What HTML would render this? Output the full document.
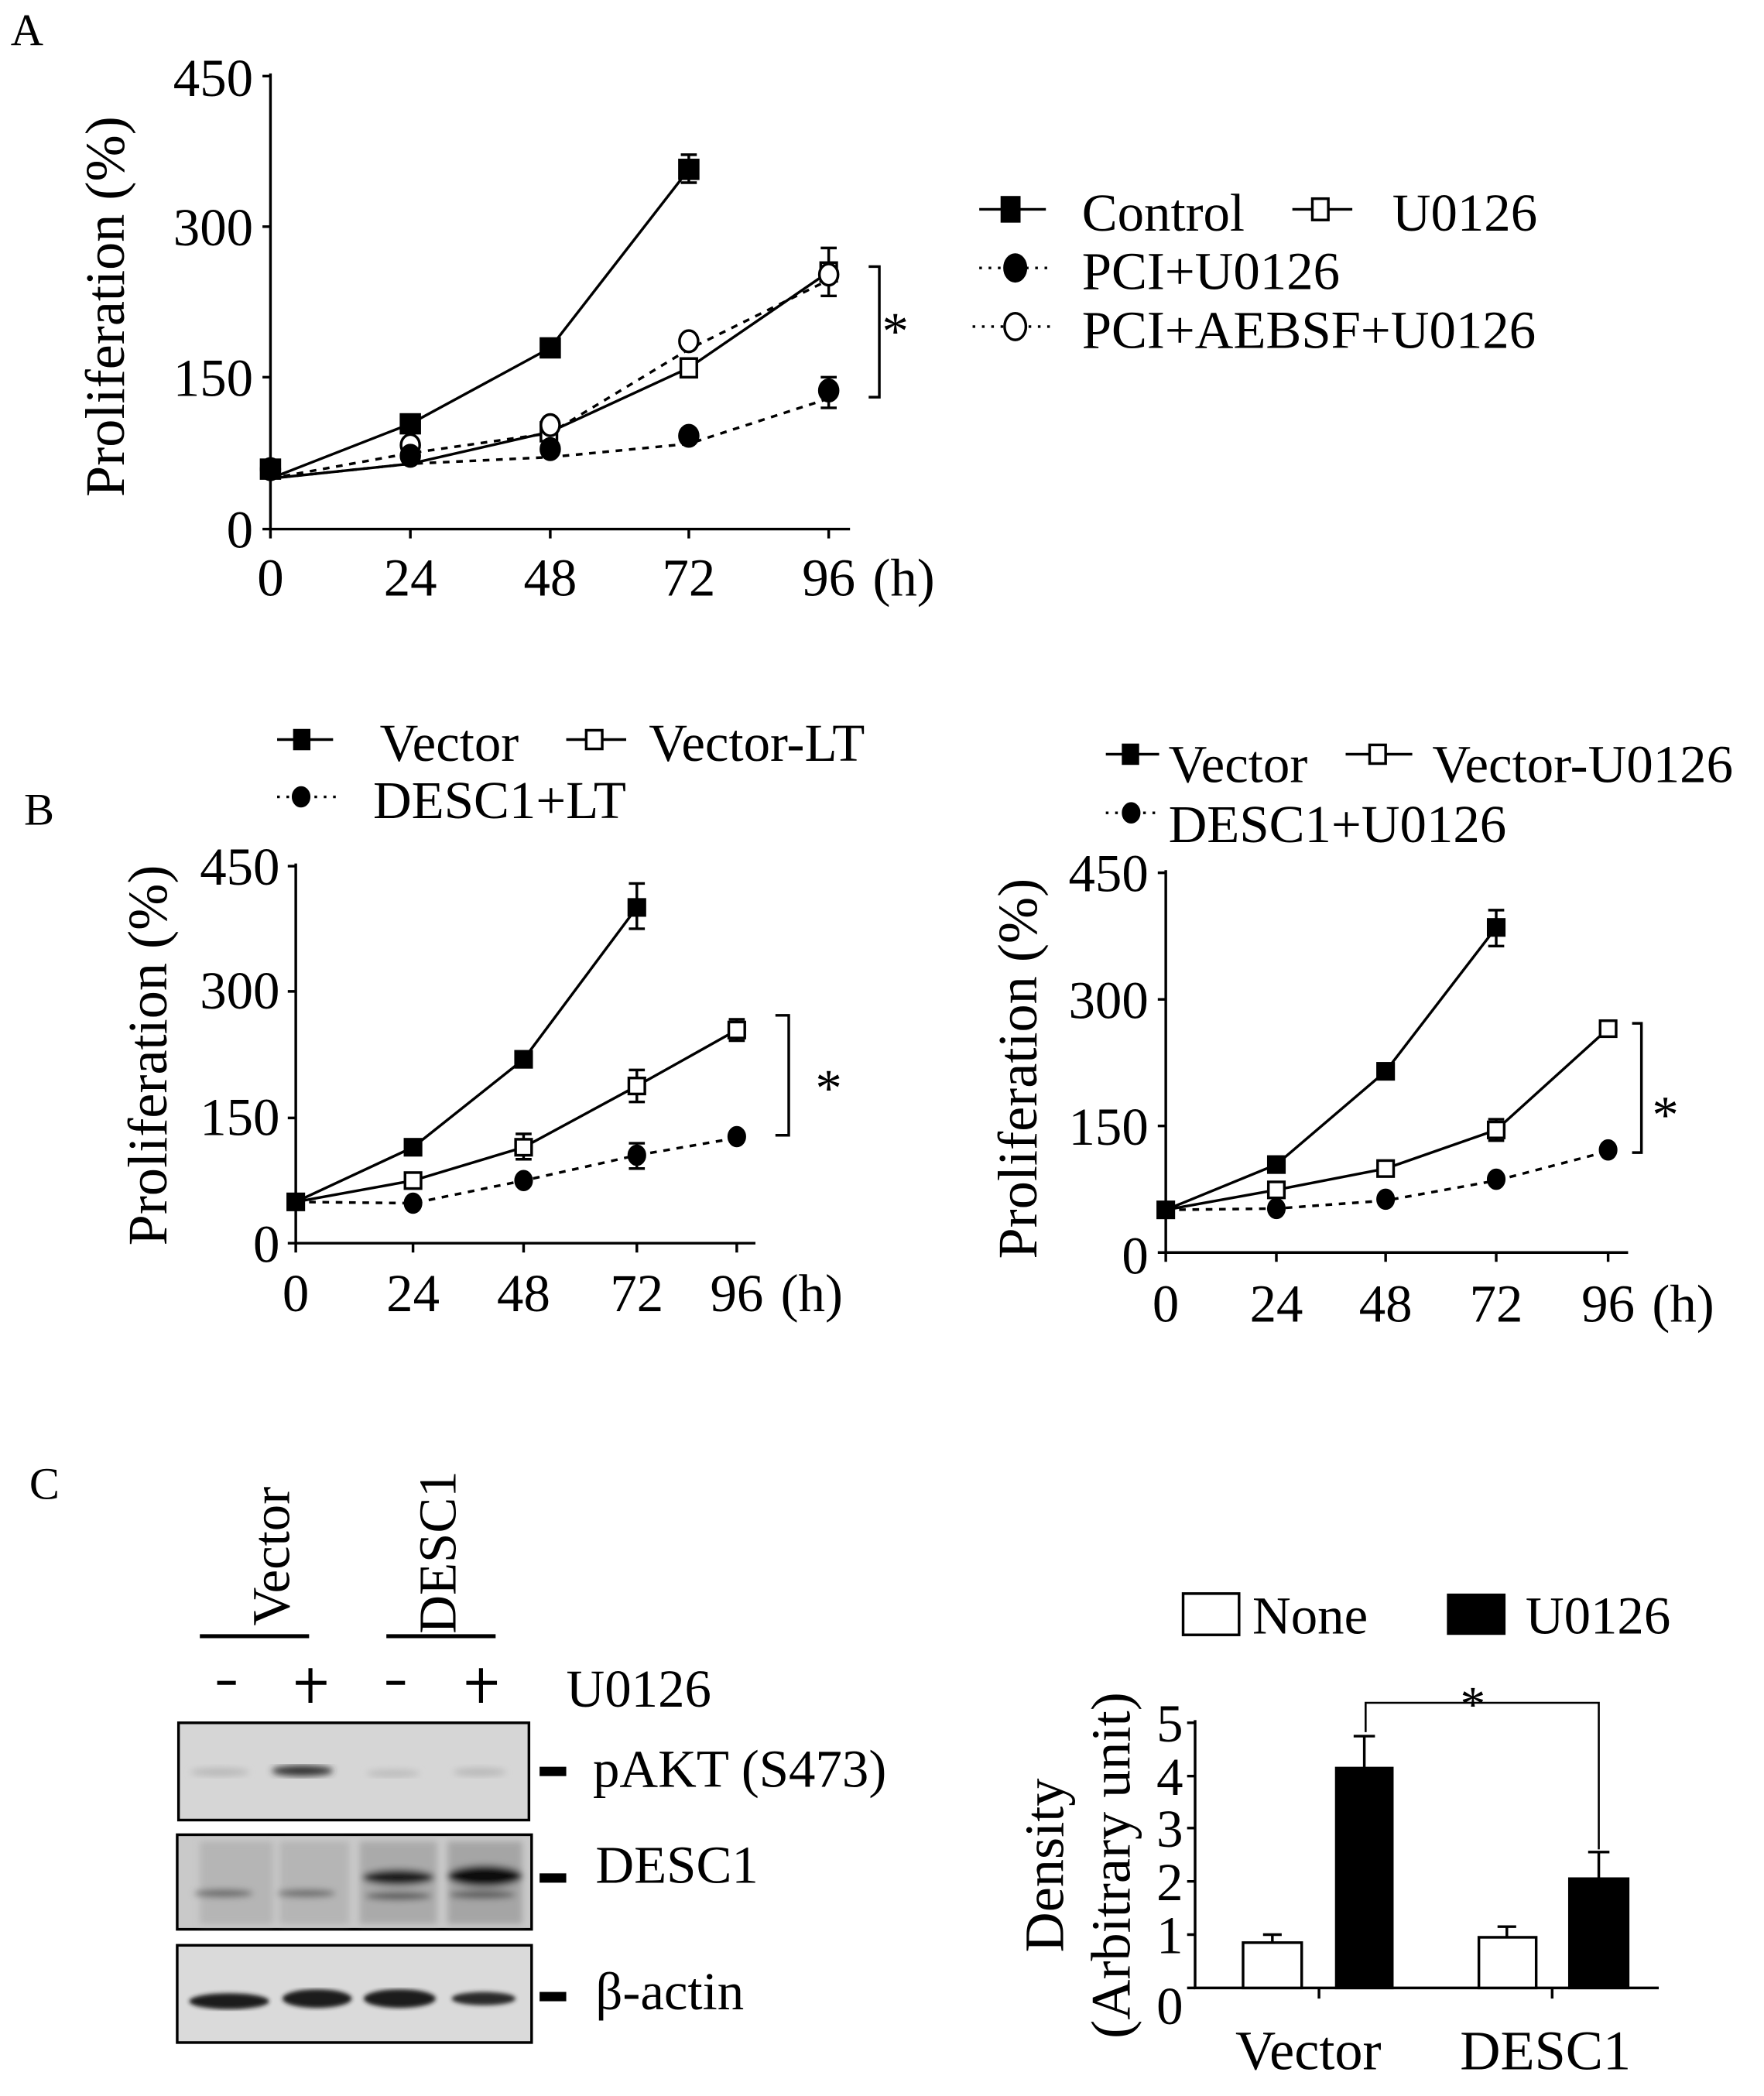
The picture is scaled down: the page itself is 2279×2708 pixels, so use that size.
<!DOCTYPE html>
<html><head><meta charset="utf-8"><style>
html,body{margin:0;padding:0;background:#fff}
svg{display:block}
text{font-family:"Liberation Serif",serif;fill:#000}
</style></head><body>
<svg width="2279" height="2708" viewBox="0 0 1324 1573" xmlns="http://www.w3.org/2000/svg">
<defs>
<filter id="blur2"><feGaussianBlur stdDeviation="2.5"/></filter>
<filter id="blur1"><feGaussianBlur stdDeviation="1.5"/></filter>
</defs>
<g font-size="40">
<!-- Panel A -->
<text x="8" y="34" font-size="34">A</text>
<g stroke="#000" stroke-width="2" fill="none">
<path d="M203 55 V397 H638"/>
<path d="M197 57 H203 M197 170 H203 M197 283 H203 M197 397 H203"/>
<path d="M203 397 V404 M308 397 V404 M413 397 V404 M517 397 V404 M622 397 V404"/>
</g>
<g text-anchor="end"><text x="190" y="72">450</text><text x="190" y="184">300</text><text x="190" y="297">150</text><text x="190" y="411">0</text></g>
<g text-anchor="middle"><text x="203" y="447">0</text><text x="308" y="447">24</text><text x="413" y="447">48</text><text x="517" y="447">72</text><text x="622" y="447">96</text></g>
<text x="655" y="447">(h)</text>
<text transform="translate(93,230) rotate(-90)" text-anchor="middle" font-size="42">Proliferation (%)</text>
<!-- A series -->
<g stroke="#000" stroke-width="2" fill="none">
<polyline points="203,359 308,318 413,261 517,127"/>
<polyline points="203,359 308,348 413,324 517,276 622,204"/>
<polyline points="203,359 308,348 413,343 517,333 622,299" stroke-dasharray="5,5"/>
<polyline points="203,359 308,340 413,325 517,262 622,210" stroke-dasharray="5,5"/>
<path d="M517 116 V137 M511 116 H523 M511 137 H523"/>
<path d="M622 186 V222 M616 186 H628 M616 222 H628"/>
<path d="M622 283 V306 M616 283 H628 M616 306 H628"/>
<path d="M652 200 H660 V298 H652"/>
</g>
<text x="662" y="262" font-size="40">*</text>
<g stroke="#000" stroke-width="2">
<ellipse cx="203" cy="352" rx="7" ry="8" fill="#000"/>
<rect x="196" y="345" width="14" height="14" fill="#000"/>
<rect x="301" y="311" width="14" height="14" fill="#000"/>
<rect x="406" y="254" width="14" height="14" fill="#000"/>
<rect x="510" y="120" width="14" height="14" fill="#000"/>
<rect x="406" y="317" width="12" height="14" fill="#fff"/>
<rect x="511" y="269" width="12" height="14" fill="#fff"/>
<rect x="616" y="197" width="12" height="14" fill="#fff"/>
<ellipse cx="308" cy="334" rx="7" ry="8" fill="#fff"/>
<ellipse cx="413" cy="319" rx="7" ry="8" fill="#fff"/>
<ellipse cx="517" cy="256" rx="7" ry="8" fill="#fff"/>
<ellipse cx="622" cy="206" rx="7" ry="8" fill="#fff"/>
<ellipse cx="308" cy="342" rx="7" ry="8" fill="#000"/>
<ellipse cx="413" cy="337" rx="7" ry="8" fill="#000"/>
<ellipse cx="517" cy="327" rx="7" ry="8" fill="#000"/>
<ellipse cx="622" cy="293" rx="7" ry="8" fill="#000"/>
</g>
<!-- A legend -->
<g stroke="#000" stroke-width="2">
<path d="M735 157 H785"/><rect x="752" y="148" width="13" height="18" fill="#000"/>
<path d="M970 157 H1015"/><rect x="985" y="149" width="12" height="16" fill="#fff"/>
<path d="M735 201 H790" stroke-dasharray="2,5"/><ellipse cx="762" cy="201" rx="8" ry="10" fill="#000"/>
<path d="M730 245 H790" stroke-dasharray="2,5"/><ellipse cx="762" cy="245" rx="8" ry="10" fill="#fff"/>
</g>
<text x="812" y="173">Control</text><text x="1045" y="173">U0126</text>
<text x="812" y="217">PCI+U0126</text>
<text x="812" y="261">PCI+AEBSF+U0126</text>

<!-- Panel B left -->
<text x="18" y="619" font-size="34">B</text>
<g stroke="#000" stroke-width="2">
<path d="M208 555 H250"/><rect x="221" y="548" width="11" height="14" fill="#000"/>
<path d="M425 555 H470"/><rect x="440" y="548" width="12" height="14" fill="#fff"/>
<path d="M208 598 H255" stroke-dasharray="2,5"/><ellipse cx="226" cy="598" rx="6" ry="7" fill="#000"/>
</g>
<text x="285" y="571">Vector</text><text x="487" y="571">Vector-LT</text>
<text x="280" y="614">DESC1+LT</text>
<g stroke="#000" stroke-width="2" fill="none">
<path d="M222 648 V933 H567"/>
<path d="M216 650 H222 M216 744 H222 M216 839 H222 M216 933 H222"/>
<path d="M222 933 V940 M310 933 V940 M393 933 V940 M478 933 V940 M553 933 V940"/>
</g>
<g text-anchor="end"><text x="210" y="664">450</text><text x="210" y="757">300</text><text x="210" y="852">150</text><text x="210" y="947">0</text></g>
<g text-anchor="middle"><text x="222" y="984">0</text><text x="310" y="984">24</text><text x="393" y="984">48</text><text x="478" y="984">72</text><text x="553" y="984">96</text></g>
<text x="586" y="984">(h)</text>
<text transform="translate(125,792) rotate(-90)" text-anchor="middle" font-size="42">Proliferation (%)</text>
<g stroke="#000" stroke-width="2" fill="none">
<polyline points="222,902 310,861 393,795 478,681"/>
<polyline points="222,902 310,886 393,861 478,815 553,773"/>
<polyline points="222,902 310,903 393,886 478,867 553,854" stroke-dasharray="5,5"/>
<path d="M478 663 V697 M472 663 H484 M472 697 H484"/>
<path d="M478 803 V827 M472 803 H484 M472 827 H484"/>
<path d="M393 851 V870 M387 851 H399 M387 870 H399"/>
<path d="M553 765 V781 M547 765 H559 M547 781 H559"/>
<path d="M478 858 V877 M472 858 H484 M472 877 H484"/>
<path d="M582 762 H592 V852 H582"/>
</g>
<text x="612" y="830" font-size="40">*</text>
<g stroke="#000" stroke-width="2">
<rect x="216" y="896" width="12" height="12" fill="#000"/>
<rect x="304" y="855" width="12" height="12" fill="#000"/>
<rect x="387" y="789" width="12" height="12" fill="#000"/>
<rect x="472" y="675" width="12" height="12" fill="#000"/>
<rect x="304" y="880" width="12" height="12" fill="#fff"/>
<rect x="387" y="855" width="12" height="12" fill="#fff"/>
<rect x="472" y="809" width="12" height="12" fill="#fff"/>
<rect x="547" y="767" width="12" height="12" fill="#fff"/>
<ellipse cx="310" cy="903" rx="6" ry="7" fill="#000"/>
<ellipse cx="393" cy="886" rx="6" ry="7" fill="#000"/>
<ellipse cx="478" cy="867" rx="6" ry="7" fill="#000"/>
<ellipse cx="553" cy="853" rx="6" ry="7" fill="#000"/>
</g>

<!-- Panel B right -->
<g stroke="#000" stroke-width="2">
<path d="M830 566 H870"/><rect x="843" y="559" width="11" height="14" fill="#000"/>
<path d="M1010 566 H1060"/><rect x="1028" y="559" width="12" height="14" fill="#fff"/>
<path d="M830 610 H870" stroke-dasharray="2,5"/><ellipse cx="849" cy="610" rx="6" ry="7" fill="#000"/>
</g>
<text x="877" y="587">Vector</text><text x="1075" y="587">Vector-U0126</text>
<text x="877" y="632">DESC1+U0126</text>
<g stroke="#000" stroke-width="2" fill="none">
<path d="M875 653 V940 H1222"/>
<path d="M869 655 H875 M869 750 H875 M869 845 H875 M869 940 H875"/>
<path d="M875 940 V947 M958 940 V947 M1040 940 V947 M1123 940 V947 M1207 940 V947"/>
</g>
<g text-anchor="end"><text x="862" y="669">450</text><text x="862" y="764">300</text><text x="862" y="859">150</text><text x="862" y="956">0</text></g>
<g text-anchor="middle"><text x="875" y="992">0</text><text x="958" y="992">24</text><text x="1040" y="992">48</text><text x="1123" y="992">72</text><text x="1207" y="992">96</text></g>
<text x="1240" y="992">(h)</text>
<text transform="translate(778,802) rotate(-90)" text-anchor="middle" font-size="42">Proliferation (%)</text>
<g stroke="#000" stroke-width="2" fill="none">
<polyline points="875,908 958,874 1040,804 1123,696"/>
<polyline points="875,908 958,893 1040,877 1123,848 1207,772"/>
<polyline points="875,908 958,907 1040,901 1123,886 1207,864" stroke-dasharray="5,5"/>
<path d="M1123 683 V710 M1117 683 H1129 M1117 710 H1129"/>
<path d="M1123 840 V856 M1117 840 H1129 M1117 856 H1129"/>
<path d="M1225 768 H1232 V865 H1225"/>
</g>
<text x="1240" y="850" font-size="40">*</text>
<g stroke="#000" stroke-width="2">
<rect x="869" y="902" width="12" height="12" fill="#000"/>
<rect x="952" y="868" width="12" height="12" fill="#000"/>
<rect x="1034" y="798" width="12" height="12" fill="#000"/>
<rect x="1117" y="690" width="12" height="12" fill="#000"/>
<rect x="952" y="887" width="12" height="12" fill="#fff"/>
<rect x="1034" y="871" width="12" height="12" fill="#fff"/>
<rect x="1117" y="842" width="12" height="12" fill="#fff"/>
<rect x="1201" y="766" width="12" height="12" fill="#fff"/>
<ellipse cx="958" cy="907" rx="6" ry="7" fill="#000"/>
<ellipse cx="1040" cy="900" rx="6" ry="7" fill="#000"/>
<ellipse cx="1123" cy="885" rx="6" ry="7" fill="#000"/>
<ellipse cx="1207" cy="863" rx="6" ry="7" fill="#000"/>
</g>

<!-- Panel C -->
<text x="22" y="1125" font-size="34">C</text>
<text transform="translate(217,1168) rotate(-90)" text-anchor="middle">Vector</text>
<text transform="translate(342,1165) rotate(-90)" text-anchor="middle">DESC1</text>
<g stroke="#000" stroke-width="3">
<path d="M150 1228 H232 M290 1228 H372"/>
<path d="M163 1263 H177 M290 1263 H304"/>
<path d="M222 1263 H245 M233 1252 V1278 M350 1263 H373 M361 1252 V1278"/>
</g>
<text x="425" y="1281">U0126</text>
<!-- blots -->
<rect x="134" y="1293" width="263" height="73" fill="#d6d6d6" stroke="#000" stroke-width="2"/>
<g filter="url(#blur2)">
<ellipse cx="227" cy="1329" rx="23" ry="4" fill="#333"/>
<ellipse cx="165" cy="1330" rx="22" ry="3" fill="#b8b8b8"/>
<ellipse cx="295" cy="1331" rx="20" ry="3" fill="#bdbdbd"/>
<ellipse cx="360" cy="1330" rx="20" ry="3" fill="#b8b8b8"/>
</g>
<rect x="133" y="1377" width="266" height="71" fill="#c9c9c9" stroke="#000" stroke-width="2"/>
<g filter="url(#blur2)">
<rect x="150" y="1382" width="55" height="62" fill="#b5b5b5"/>
<rect x="210" y="1382" width="52" height="62" fill="#b5b5b5"/>
<rect x="270" y="1382" width="58" height="62" fill="#aaa"/>
<rect x="336" y="1382" width="56" height="62" fill="#a5a5a5"/>
<ellipse cx="168" cy="1421" rx="22" ry="3" fill="#666"/>
<ellipse cx="230" cy="1421" rx="22" ry="3" fill="#6a6a6a"/>
<ellipse cx="299" cy="1409" rx="27" ry="6" fill="#1a1a1a"/>
<ellipse cx="364" cy="1408" rx="28" ry="8" fill="#0a0a0a"/>
<ellipse cx="299" cy="1423" rx="25" ry="3" fill="#555"/>
<ellipse cx="362" cy="1422" rx="25" ry="3" fill="#555"/>
</g>
<rect x="133" y="1460" width="266" height="73" fill="#dadada" stroke="#000" stroke-width="2"/>
<g filter="url(#blur1)">
<ellipse cx="172" cy="1502" rx="30" ry="6" fill="#1c1c1c"/>
<ellipse cx="238" cy="1500" rx="26" ry="7" fill="#1c1c1c"/>
<ellipse cx="300" cy="1500" rx="27" ry="7" fill="#1c1c1c"/>
<ellipse cx="363" cy="1500" rx="24" ry="5" fill="#2a2a2a"/>
</g>
<g fill="#000"><rect x="405" y="1326" width="20" height="7"/><rect x="405" y="1406" width="20" height="7"/><rect x="405" y="1495" width="20" height="7"/></g>
<text x="445" y="1341">pAKT (S473)</text>
<text x="447" y="1413">DESC1</text>
<text x="447" y="1508">β-actin</text>

<!-- bar chart -->
<rect x="888" y="1196" width="42" height="31" fill="#fff" stroke="#000" stroke-width="2"/>
<rect x="1086" y="1196" width="44" height="31" fill="#000"/>
<text x="940" y="1226">None</text><text x="1145" y="1226">U0126</text>
<g stroke="#000" stroke-width="2" fill="none">
<path d="M897 1291 V1492 H1245"/>
<path d="M891 1293 H897 M891 1333 H897 M891 1372 H897 M891 1412 H897 M891 1452 H897 M891 1492 H897"/>
<path d="M990 1492 V1500 M1165 1492 V1500"/>
</g>
<g text-anchor="end"><text x="888" y="1307">5</text><text x="888" y="1347">4</text><text x="888" y="1386">3</text><text x="888" y="1426">2</text><text x="888" y="1466">1</text><text x="888" y="1519">0</text></g>
<g stroke="#000" stroke-width="2">
<path d="M955 1458 V1452 M948 1452 H962"/>
<rect x="933" y="1458" width="44" height="34" fill="#fff"/>
<path d="M1024 1327 V1303 M1016 1303 H1032"/>
<rect x="1003" y="1327" width="42" height="165" fill="#000"/>
<path d="M1131 1454 V1446 M1124 1446 H1138"/>
<rect x="1110" y="1454" width="43" height="38" fill="#fff"/>
<path d="M1200 1410 V1390 M1192 1390 H1208"/>
<rect x="1178" y="1410" width="44" height="82" fill="#000"/>
<path d="M1025 1300 V1278 H1200 V1388" fill="none" stroke-width="1.5"/>
</g>
<text x="1096" y="1292" font-size="38">*</text>
<text transform="translate(798,1400) rotate(-90)" text-anchor="middle" font-size="42">Density</text>
<text transform="translate(848,1400) rotate(-90)" text-anchor="middle" font-size="42">(Arbitrary unit)</text>
<g text-anchor="middle"><text x="982" y="1553" font-size="42">Vector</text><text x="1160" y="1553" font-size="42">DESC1</text></g>
</g>
</svg>
</body></html>
